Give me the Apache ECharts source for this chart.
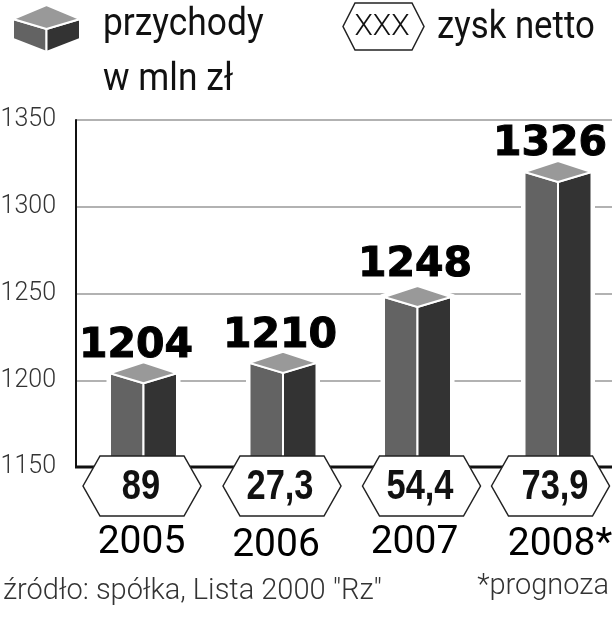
<!DOCTYPE html>
<html>
<head>
<meta charset="utf-8">
<style>html,body{margin:0;background:#fff}#main{width:614px;height:640px}</style>
<script src="https://cdn.jsdelivr.net/npm/echarts@6/dist/echarts.min.js"></script>
</head>
<body>
<div id="main"></div>
<script>
var years = ['2005', '2006', '2007', '2008*'];
var przychody = [1204, 1210, 1248, 1326];      // printed values
var barTops = [1204, 1210, 1248, 1320];        // height the bars are really drawn to (the 2008 one is short of its label)
var zysk = ['89', '27,3', '54,4', '73,9'];
var ticks = [1150, 1200, 1250, 1300, 1350];

// small shifts, the original is hand placed
var barDx = [0.5, 6, 6.5, 13];
var valueDx = [-7.5, -3, -2.5, -8];
var valueDy = [-27, -27, -32, -28];
var hexDx = [-1, 5, 10.5, 5.5];
var hexTextDx = [-2, 3, 9, 10];
var yearDx = [-1.5, -1, 3.5, 15];
var yearDy = [76, 79, 76, 78];

var thin = 'Roboto,"Liberation Sans",sans-serif';

function hexPoints(cx, top, halfW, h, notch) {
  return [[cx - halfW, top + h / 2], [cx - halfW + notch, top], [cx + halfW - notch, top],
    [cx + halfW, top + h / 2], [cx + halfW - notch, top + h], [cx - halfW + notch, top + h]];
}

function cube(cx, top, bottom, halfW, capH, capB, drop) {
  // top = height of the side corners of the cap, drop = how much lower the front edge ends
  return [
    {type: 'polygon', shape: {points: [[cx - halfW, top], [cx, top + capB], [cx, bottom + drop], [cx - halfW, bottom]]},
      style: {fill: '#636363', stroke: '#fff', lineWidth: 2}},
    {type: 'polygon', shape: {points: [[cx + halfW, top], [cx, top + capB], [cx, bottom + drop], [cx + halfW, bottom]]},
      style: {fill: '#333333', stroke: '#fff', lineWidth: 2}},
    {type: 'polygon', shape: {points: [[cx - halfW, top], [cx, top - capH], [cx + halfW, top], [cx, top + capB]]},
      style: {fill: '#999999', stroke: '#fff', lineWidth: 2}}
  ];
}

var myChart = echarts.init(document.getElementById('main'));
myChart.setOption({
  animation: false,
  backgroundColor: '#fff',
  grid: {left: 76, right: 2, top: 120, bottom: 173, outerBoundsMode: 'none'},
  xAxis: {
    type: 'category',
    data: years,
    axisLine: {show: false},
    axisTick: {show: false},
    axisLabel: {show: false}
  },
  yAxis: {
    type: 'value',
    min: ticks[0],
    max: ticks[ticks.length - 1],
    interval: 50,
    axisLine: {show: true, onZero: false, lineStyle: {color: '#111', width: 2}},
    axisTick: {show: false},
    axisLabel: {margin: 20, color: '#333', fontFamily: thin, fontWeight: 300, fontSize: 25, padding: [0, 0, 6, 0],
      formatter: function (v) { return String(v); }},
    splitLine: {lineStyle: {color: '#999', width: 1.5}}
  },
  graphic: [
    {type: 'group', children: cube(46.5, 19, 39, 33.5, 14, 10, 13)},
    {type: 'polygon', shape: {points: hexPoints(383.5, 3, 40.5, 47, 12)},
      style: {fill: '#fff', stroke: '#222', lineWidth: 1.5}},
    {type: 'text', x: 382, y: 27, style: {text: 'XXX', fontFamily: thin, fontWeight: 300, fontSize: 30, fill: '#111', align: 'center', verticalAlign: 'middle'}},
    {type: 'text', x: 103, y: 25, scaleX: 0.93, style: {text: 'przychody', fontFamily: thin, fontSize: 38, fill: '#111', verticalAlign: 'middle'}},
    {type: 'text', x: 103, y: 80, scaleX: 0.93, style: {text: 'w mln zł', fontFamily: thin, fontSize: 38, fill: '#111', verticalAlign: 'middle'}},
    {type: 'text', x: 437, y: 28, scaleX: 0.915, style: {text: 'zysk netto', fontFamily: thin, fontSize: 38, fill: '#111', verticalAlign: 'middle'}},
    {type: 'text', x: 3, y: 592, style: {text: 'źródło: spółka, Lista 2000 "Rz"', fontFamily: thin, fontWeight: 300, fontSize: 29, fill: '#333', verticalAlign: 'middle'}},
    {type: 'text', x: 609, y: 587, style: {text: '*prognoza', fontFamily: thin, fontWeight: 300, fontSize: 29, fill: '#333', align: 'right', verticalAlign: 'middle'}}
  ],
  series: [
    {
      // the 3d bars
      type: 'custom',
      z: 3,
      clip: false,
      data: barTops.map(function (v, i) { return [i, v]; }),
      renderItem: function (params, api) {
        var i = api.value(0);
        var p = api.coord([i, api.value(1)]);
        var base = api.coord([i, ticks[0]]);
        var cx = p[0] + barDx[i];
        var halo = {type: 'polygon', shape: {points: [[cx - 33.5, base[1]], [cx - 33.5, p[1]], [cx, p[1] - 11],
          [cx + 33.5, p[1]], [cx + 33.5, base[1]]]}, style: {fill: '#fff', stroke: '#fff', lineWidth: 7}};
        return {type: 'group', children: [halo].concat(cube(cx, p[1], base[1], 33.5, 11, 10, 0))};
      }
    },
    {
      // baseline, on top of the bars
      type: 'custom',
      z: 4,
      clip: false,
      data: [[0, ticks[0]]],
      renderItem: function (params, api) {
        var p = api.coord([0, ticks[0]]);
        return {type: 'rect', shape: {x: 75, y: p[1] - 1.5, width: 537, height: 3}, style: {fill: '#111'}};
      }
    },
    {
      // hexagons with zysk netto
      type: 'custom',
      z: 5,
      clip: false,
      data: zysk.map(function (v, i) { return [i, v]; }),
      encode: {x: 0},
      renderItem: function (params, api) {
        var i = params.dataIndex;
        var p = api.coord([i, ticks[0]]);
        var cx = p[0] + hexDx[i];
        return {type: 'group', children: [
          {type: 'polygon', shape: {points: hexPoints(cx, p[1] - 11, 59, 60, 17)},
            style: {fill: '#fff', stroke: '#222', lineWidth: 1.5}},
          {type: 'text', x: p[0] + hexTextDx[i], y: p[1] + 20, scaleX: 0.82, style: {text: zysk[i], fontFamily: '"Liberation Sans"', fontWeight: 'bold', fontSize: 42,
            fill: '#111', align: 'center', verticalAlign: 'middle'}}
        ]};
      }
    },
    {
      // value labels over the bars
      type: 'custom',
      z: 6,
      clip: false,
      data: przychody.map(function (v, i) { return [i, v]; }),
      renderItem: function (params, api) {
        var i = api.value(0);
        var p = api.coord([i, barTops[i]]);
        return {type: 'text', x: p[0] + barDx[i] + valueDx[i], y: p[1] + valueDy[i], style: {text: String(api.value(1)),
          fontFamily: '"DejaVu Sans"', fontWeight: 'bold', fontSize: 41, fill: '#000', stroke: '#000', lineWidth: 1,
          align: 'center', verticalAlign: 'middle'}};
      }
    },
    {
      // years under the hexagons
      type: 'custom',
      z: 6,
      clip: false,
      data: years.map(function (v, i) { return [i, ticks[0]]; }),
      renderItem: function (params, api) {
        var i = params.dataIndex;
        var p = api.coord([i, ticks[0]]);
        return {type: 'text', x: p[0] + yearDx[i], y: p[1] + yearDy[i], style: {text: years[i],
          fontFamily: 'Roboto', fontWeight: 400, fontSize: 39, fill: '#000', align: 'center', verticalAlign: 'middle'}};
      }
    }
  ]
});
</script>
</body>
</html>
